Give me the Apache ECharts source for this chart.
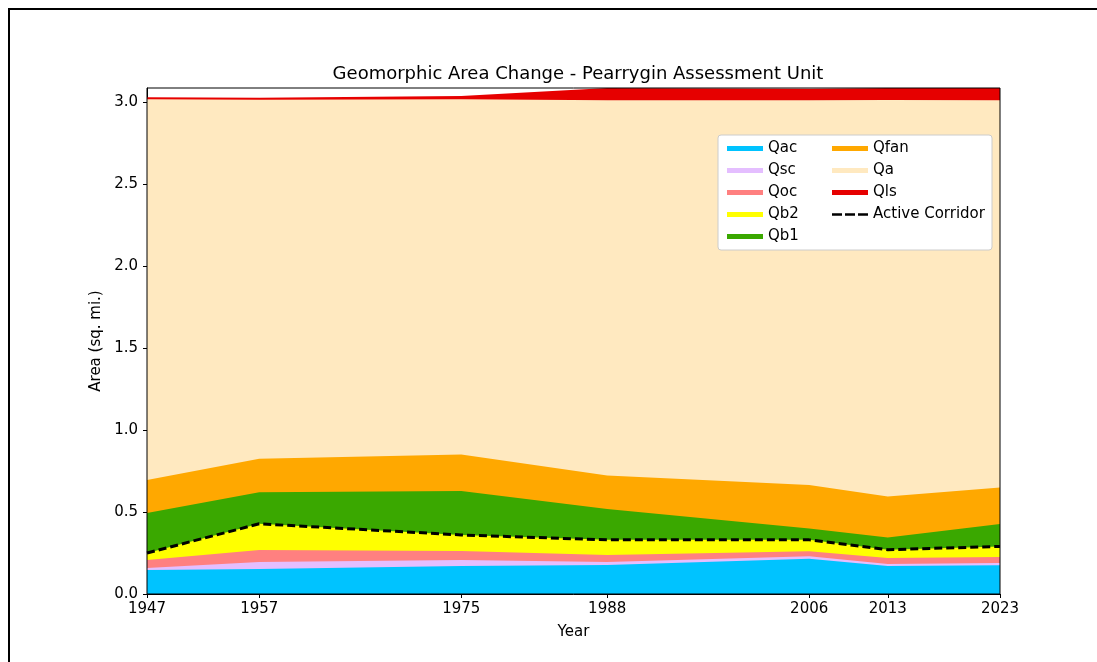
<!DOCTYPE html>
<html>
<head>
<meta charset="utf-8">
<script src="https://cdn.jsdelivr.net/npm/echarts@6/dist/echarts.min.js"></script>
<style>
  html, body { margin: 0; padding: 0; background: #fff; }
  #frame { position: absolute; left: 8px; top: 8px; width: 1095px; height: 660px; border-left: 2px solid #000; border-top: 2px solid #000; }
  #chart { position: absolute; left: 0; top: 0; width: 1097px; height: 662px; }
</style>
</head>
<body>
<div id="frame"></div>
<div id="chart"></div>
<script>
// years on the x axis
const years = [1947, 1957, 1975, 1988, 2006, 2013, 2023];

// area (sq. mi.) for each unit, stacked bottom to top
const qac  = [0.146, 0.152, 0.171, 0.177, 0.215, 0.171, 0.175];
const qsc  = [0.013, 0.043, 0.036, 0.018, 0.015, 0.012, 0.014];
const qoc  = [0.048, 0.073, 0.055, 0.043, 0.030, 0.037, 0.036];
const qb2  = [0.043, 0.160, 0.098, 0.092, 0.070, 0.050, 0.065];
const qb1  = [0.244, 0.192, 0.268, 0.188, 0.070, 0.075, 0.137];
const qfan = [0.201, 0.205, 0.222, 0.204, 0.265, 0.250, 0.223];
const qa   = [2.321, 2.189, 2.166, 2.288, 2.345, 2.417, 2.360];
const qls  = [0.012, 0.011, 0.020, 0.075, 0.070, 0.073, 0.080];

// active corridor line
const activeCorridor = [0.250, 0.428, 0.360, 0.330, 0.330, 0.270, 0.290];

const yTicks = [0, 0.5, 1.0, 1.5, 2.0, 2.5, 3.0];

const font = 'DejaVu Sans';

const units = [
  { name: 'Qac', data: qac, color: '#00C3FF' },
  { name: 'Qsc', data: qsc, color: '#E4BEFF' },
  { name: 'Qoc', data: qoc, color: '#FF8080' },
  { name: 'Qb2', data: qb2, color: '#FFFF00' },
  { name: 'Qb1', data: qb1, color: '#3AA800' },
  { name: 'Qfan', data: qfan, color: '#FFA800' },
  { name: 'Qa', data: qa, color: '#FFE9C0' },
  { name: 'Qls', data: qls, color: '#E60000' }
];

// running totals (stackplot); the value x axis does not stack on y by itself,
// so each layer is filled from zero and lower layers are painted over upper ones
let running = years.map(() => 0);
const series = units.map((u, i) => {
  running = running.map((s, j) => s + u.data[j]);
  return {
    name: u.name,
    type: 'line',
    data: running.map((v, j) => [years[j], v]),
    color: u.color,
    showSymbol: false,
    symbol: 'none',
    lineStyle: { width: 0 },
    areaStyle: { color: u.color, opacity: 1, origin: 'start' },
    emphasis: { disabled: true },
    z: 20 - i
  };
});

series.push({
  name: 'Active Corridor',
  type: 'line',
  data: activeCorridor.map((v, j) => [years[j], v]),
  color: '#000',
  showSymbol: false,
  symbol: 'none',
  lineStyle: { color: '#000', width: 3, type: [8, 4] },
  emphasis: { disabled: true },
  z: 30
});

const legendCommon = {
  orient: 'vertical',
  itemWidth: 36,
  itemHeight: 5,
  itemGap: 7,
  icon: 'rect',
  symbolKeepAspect: false,
  z: 50,
  textStyle: { fontFamily: font, fontSize: 15, color: '#000' },
  selectedMode: false
};

const chart = echarts.init(document.getElementById('chart'));
chart.setOption({
  animation: false,
  title: {
    text: 'Geomorphic Area Change - Pearrygin Assessment Unit',
    left: 573,
    textAlign: 'center',
    top: 60,
    textStyle: { fontFamily: font, fontSize: 18, fontWeight: 'normal', color: '#000' }
  },
  grid: { left: 147, right: 97, top: 88, bottom: 68 },
  legend: [
    Object.assign({}, legendCommon, {
      left: 722, top: 136,
      data: ['Qac', 'Qsc', 'Qoc', 'Qb2', 'Qb1']
    }),
    Object.assign({}, legendCommon, {
      left: 827, top: 136,
      data: ['Qfan', 'Qa', 'Qls', {
        name: 'Active Corridor',
        icon: 'path://M0,0L0,0 M0,1.5H10V4.5H0Z M13,1.5H23V4.5H13Z M26,1.5H36V4.5H26Z M36,6L36,6'
      }]
    })
  ],
  xAxis: {
    type: 'value',
    min: 1947,
    max: 2023,
    name: 'Year',
    nameLocation: 'middle',
    nameGap: 31,
    nameTextStyle: { fontFamily: font, fontSize: 15, color: '#000' },
    axisLine: { show: true, lineStyle: { color: '#000', width: 1 } },
    axisTick: { show: true, customValues: years, length: 4, lineStyle: { color: '#000' } },
    axisLabel: {
      customValues: years,
      fontFamily: font, fontSize: 15, color: '#000', margin: 8,
      formatter: v => String(v)
    },
    splitLine: { show: false }
  },
  yAxis: {
    type: 'value',
    min: 0,
    max: 3.085,
    name: 'Area (sq. mi.)',
    nameLocation: 'middle',
    nameGap: 42,
    nameTextStyle: { fontFamily: font, fontSize: 15, color: '#000' },
    axisLine: { show: true, lineStyle: { color: '#000', width: 1 } },
    axisTick: { show: true, customValues: yTicks, length: 4, lineStyle: { color: '#000' } },
    axisLabel: {
      customValues: yTicks,
      fontFamily: font, fontSize: 15, color: '#000', margin: 9,
      formatter: v => v.toFixed(1)
    },
    splitLine: { show: false }
  },
  graphic: [
    {
      type: 'rect',
      shape: { x: 147, y: 88, width: 853, height: 506 },
      style: { fill: 'none', stroke: '#000', lineWidth: 1 },
      z: 100, silent: true
    },
    {
      type: 'rect',
      shape: { x: 718, y: 135, width: 274, height: 115, r: 3 },
      style: { fill: '#fff', stroke: '#ccc', lineWidth: 1 },
      z: 40, silent: true
    }
  ],
  series: series
});
</script>
</body>
</html>
